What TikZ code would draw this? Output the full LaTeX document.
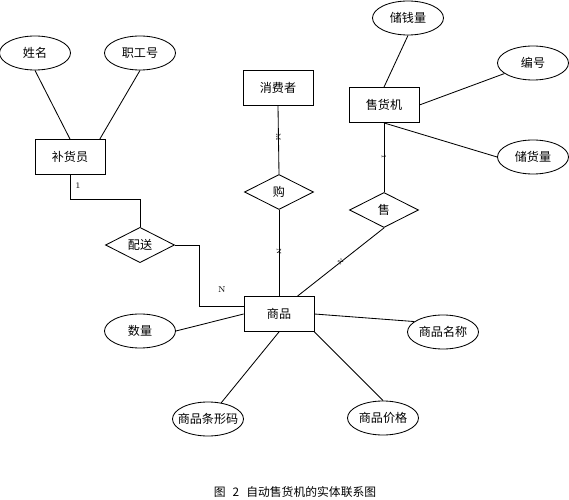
\documentclass[tikz,border=0pt]{standalone}
\usepackage{fontspec}
\newfontfamily\cjk{Noto Sans CJK SC}
\usetikzlibrary{calc,shapes.geometric}
\tikzset{
	ent/.style={draw, rectangle, minimum width=17.5mm, minimum height=8.75mm, inner sep=0pt, font=\cjk\fontsize{8.6}{10}\selectfont},
	attr/.style={draw, ellipse, minimum width=17.75mm, minimum height=8.5mm, inner xsep=-1.8mm, inner ysep=0pt, font=\cjk\fontsize{8.6}{10}\selectfont},
	rel/.style={draw, diamond, minimum width=17.25mm, minimum height=8.75mm, inner sep=0pt, font=\cjk\fontsize{8.6}{10}\selectfont},
	linetag/.style={font=\fontsize{4.5}{5}\selectfont, inner sep=0pt},
	cardtag/.style={font=\fontsize{6}{7}\selectfont, inner sep=0pt}
}

\begin{document}
\begin{tikzpicture}[x=0.25mm, y=-0.25mm, line width=0.6pt]
			%%%%% START %%%%%
			\useasboundingbox (0,0) rectangle (569,500);
			
			\node[attr] (xm) at (35,53) {姓名};
			\node[attr] (zgh) at (140,53) {职工号};
			\node[ent] (bhy) at (70,157) {补货员};
			\node[rel] (ps) at (140,245) {配送};
			
			\node[ent] (xfz) at (278,88) {消费者};
			\node[rel] (gou) at (279,192) {购};
			
			\node[ent] (shj) at (384,105) {售货机};
			\node[attr] (cqn) at (408,18) {储钱量};
			\node[attr] (bh) at (533,63) {编号};
			\node[attr] (chl) at (533,157) {储货量};
			\node[rel] (shou) at (384,210) {售};
			
			\node[ent] (sp) at (279,314) {商品};
			\node[attr] (sl) at (140,331) {数量};
			\node[attr] (spmc) at (443,332) {商品名称};
			\node[attr] (txm) at (208,419) {商品条形码};
			\node[attr] (jg) at (383,418) {商品价格};
			
			\draw (xm.south) -- (bhy.north);
			\draw (zgh.south) -- (bhy.31);
			\draw (cqn.south) -- (shj.north);
			\draw (shj.east) -- (bh);
			\draw (shj.south) -- (chl.west);
			\draw (sp.west) -- (sl.east);
			\draw (sp.east) -- (spmc.160);
			\draw (sp.south) -- (txm);
			\draw (sp.south east) -- (jg.north);
			
			\draw (bhy.south) -- ++(0,25) -| (ps.north);
			\node[cardtag] at (78,186) {1};
			\coordinate (psj) at ($(sp.north west)!0.29!(sp.south west)$);
			\draw (ps.east) -| ($(psj)+(-44,0)$) -- (psj);
			\node[cardtag] at (222,290) {N};
			
			\draw (xfz.south) -- node[linetag, sloped, pos=0.46] {M} (gou.north);
			\draw (gou.south) -- node[linetag, sloped, pos=0.48] {N} (sp.north);
			\draw (shj.south) -- node[linetag, sloped, pos=0.49] {1} (shou.north);
			\draw (shou.south) -- node[linetag, sloped, pos=0.5] {N} (sp.44);
			
			\node[font=\cjk\fontsize{8.4}{10}\selectfont] (cap) at (295,492) {图\hspace{0.6em}2\hspace{0.6em}自动售货机的实体联系图};
			%%%%% END %%%%%
\end{tikzpicture}
\end{document}
